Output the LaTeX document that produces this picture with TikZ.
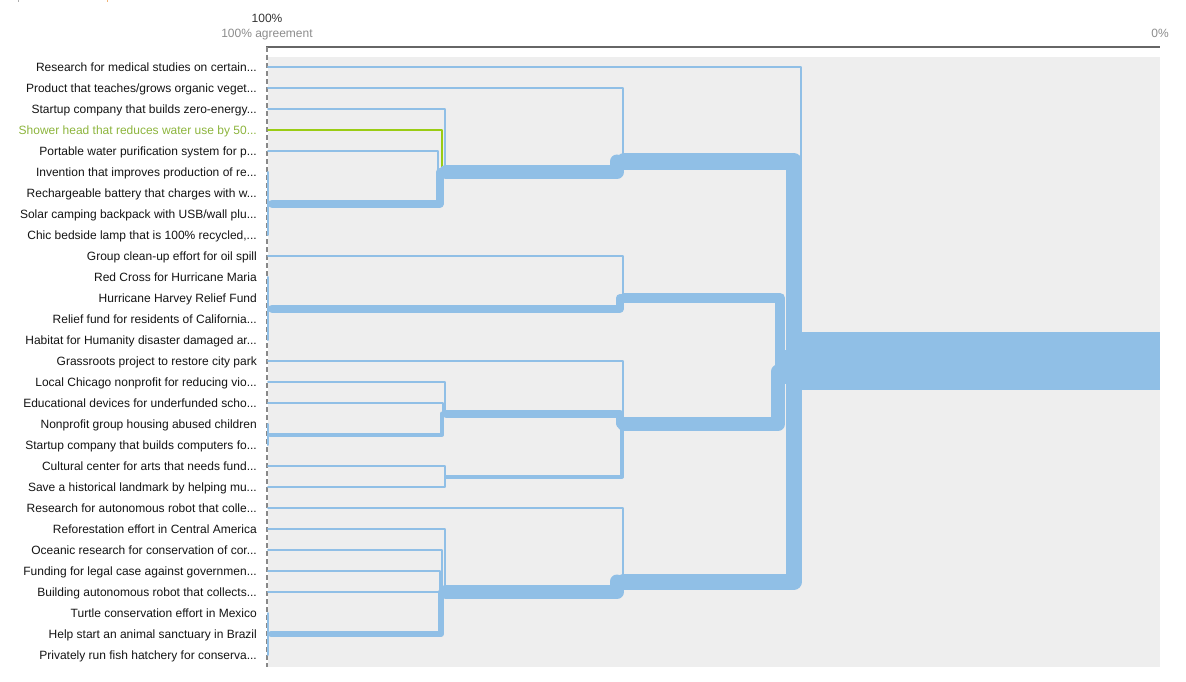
\documentclass[tikz,border=0pt]{standalone}
\usepackage{fontspec}
\setmainfont{Liberation Sans}
\definecolor{branchBlue}{RGB}{144,191,230}
\definecolor{showerGreen}{RGB}{154,204,20}
\definecolor{showerText}{RGB}{140,180,60}
\definecolor{bgGray}{RGB}{238,238,238}
\definecolor{axisGray}{RGB}{102,102,102}
\definecolor{dashGray}{RGB}{136,136,136}
\definecolor{capGray}{RGB}{140,140,140}
\definecolor{tickOrange}{RGB}{240,180,120}

\begin{document}
\begin{tikzpicture}[x=1pt, y=-1pt,
		lbl/.style={anchor=base east, inner sep=0pt, font=\fontsize{12pt}{14pt}\selectfont, text=black!92},
		hdr/.style={anchor=base, inner sep=0pt, font=\fontsize{12pt}{14pt}\selectfont},
		br/.style={draw=branchBlue, line width=2pt, line join=round, line cap=round}]
				\useasboundingbox (0,0) rectangle (1186,682);
				
				% frame
				\fill[bgGray] (268,57) rectangle (1160,667);
				\draw[axisGray, line width=2pt] (266,47) -- (1160,47);
				\draw[dashGray, line width=2pt, dash pattern=on 5pt off 3pt] (266.5,47) -- (266.5,667);
				\draw[capGray!70, line width=1pt] (18,0) -- (18,2.5);
				\draw[tickOrange, line width=1pt] (107,0) -- (107,2.5);
				
				\node[hdr, text=black!80] (full) at (267,23) {100\%};
				\node[hdr, text=capGray] (agree) at (267,38) {100\% agreement};
				\node[hdr, text=capGray] (none) at (1160,38) {0\%};
				
				% labels
				\node[lbl] (t0) at (257,71.5) {Research for medical studies on certain...};
				\node[lbl] (t1) at (257,92.5) {Product that teaches/grows organic veget...};
				\node[lbl] (t2) at (257,113.5) {Startup company that builds zero-energy...};
				\node[lbl, text=showerText] (t3) at (257,134.5) {Shower head that reduces water use by 50...};
				\node[lbl] (t4) at (257,155.5) {Portable water purification system for p...};
				\node[lbl] (t5) at (257,176.5) {Invention that improves production of re...};
				\node[lbl] (t6) at (257,197.5) {Rechargeable battery that charges with w...};
				\node[lbl] (t7) at (257,218.5) {Solar camping backpack with USB/wall plu...};
				\node[lbl] (t8) at (257,239.5) {Chic bedside lamp that is 100\% recycled,...};
				\node[lbl] (t9) at (257,260.5) {Group clean-up effort for oil spill};
				\node[lbl] (t10) at (257,281.5) {Red Cross for Hurricane Maria};
				\node[lbl] (t11) at (257,302.5) {Hurricane Harvey Relief Fund};
				\node[lbl] (t12) at (257,323.5) {Relief fund for residents of California...};
				\node[lbl] (t13) at (257,344.5) {Habitat for Humanity disaster damaged ar...};
				\node[lbl] (t14) at (257,365.5) {Grassroots project to restore city park};
				\node[lbl] (t15) at (257,386.5) {Local Chicago nonprofit for reducing vio...};
				\node[lbl] (t16) at (257,407.5) {Educational devices for underfunded scho...};
				\node[lbl] (t17) at (257,428.5) {Nonprofit group housing abused children};
				\node[lbl] (t18) at (257,449.5) {Startup company that builds computers fo...};
				\node[lbl] (t19) at (257,470.5) {Cultural center for arts that needs fund...};
				\node[lbl] (t20) at (257,491.5) {Save a historical landmark by helping mu...};
				\node[lbl] (t21) at (257,512.5) {Research for autonomous robot that colle...};
				\node[lbl] (t22) at (257,533.5) {Reforestation effort in Central America};
				\node[lbl] (t23) at (257,554.5) {Oceanic research for conservation of cor...};
				\node[lbl] (t24) at (257,575.5) {Funding for legal case against governmen...};
				\node[lbl] (t25) at (257,596.5) {Building autonomous robot that collects...};
				\node[lbl] (t26) at (257,617.5) {Turtle conservation effort in Mexico};
				\node[lbl] (t27) at (257,638.5) {Help start an animal sanctuary in Brazil};
				\node[lbl] (t28) at (257,659.5) {Privately run fish hatchery for conserva...};
				
				% leaves
				\coordinate (l0) at (268,67);
				\coordinate (l1) at (268,88);
				\coordinate (l2) at (268,109);
				\coordinate (l3) at (268,130);
				\coordinate (l4) at (268,151);
				\coordinate (l5) at (268,172);
				\coordinate (l8) at (268,235);
				\coordinate (l9) at (268,256);
				\coordinate (l10) at (268,277);
				\coordinate (l13) at (268,340);
				\coordinate (l14) at (268,361);
				\coordinate (l15) at (268,382);
				\coordinate (l16) at (268,403);
				\coordinate (l17) at (268,424);
				\coordinate (l18) at (268,445);
				\coordinate (l19) at (268,466);
				\coordinate (l20) at (268,487);
				\coordinate (l21) at (268,508);
				\coordinate (l22) at (268,529);
				\coordinate (l23) at (268,550);
				\coordinate (l24) at (268,571);
				\coordinate (l25) at (268,592);
				\coordinate (l26) at (268,613);
				\coordinate (l28) at (268,655);
				
				% merges
				\coordinate (m1) at (272,203.5);
				\coordinate (m4) at (446,172);
				\coordinate (m5) at (624,161.5);
				\coordinate (m6) at (272,308.5);
				\coordinate (m7) at (624,298);
				\coordinate (m8) at (270,434.5);
				\coordinate (m10) at (446,413.5);
				\coordinate (m11) at (446,476.5);
				\coordinate (m12) at (624,424);
				\coordinate (m13) at (785,371.5);
				\coordinate (m17) at (271,634);
				\coordinate (m18) at (446,592);
				\coordinate (m19) at (624,581.5);
				\coordinate (root) at (802,361.2);
				\coordinate (rootend) at (1160,361.2);
				
				% single items
				\draw[br] (l0) -| ([xshift=-1pt]root);
				\draw[br] (l1) -| ([xshift=-1pt]m5);
				\draw[br] (l2) -| ([xshift=-1pt]m4);
				\draw[br] (l4) -| ([xshift=-8pt]m4);
				\draw[br] (l9) -| ([xshift=-1pt]m7);
				\draw[br] (l14) -| ([xshift=-1pt]m12);
				\draw[br] (l15) -| ([xshift=-1pt]m10);
				\draw[br] (l16) -| ([xshift=-3pt]m10);
				\draw[br] (l19) -| ([xshift=-1pt]m11);
				\draw[br] (l20) -| ([xshift=-1pt]m11);
				\draw[br] (l21) -| ([xshift=-1pt]m19);
				\draw[br] (l22) -| ([xshift=-1pt]m18);
				\draw[br] (l23) -| ([xshift=-4pt]m18);
				\draw[br] (l24) -| ([xshift=-6pt]m18);
				\draw[br] (l25) -| ([xshift=-3pt]m18);
				\draw[br] (l5) -- (l8);
				\draw[br] (l10) -- (l13);
				\draw[br] (l17) -- (l18);
				\draw[br] (l26) -- (l28);
				\draw[br, draw=showerGreen] (l3) -| ([xshift=-4pt]m4);
				
				% clusters
				\draw[br, line width=4pt] (m8) -| ([xshift=-4pt]m10);
				\draw[br, line width=4pt] (m11) -| ([xshift=-2pt]m12);
				\draw[br, line width=6pt] (m17) -| ([xshift=-5pt]m18);
				\draw[br, line width=8pt] (m1) -| ([xshift=-6pt]m4);
				\draw[br, line width=8pt] (m6) -| ([xshift=-4pt]m7);
				\draw[br, line width=8pt] (m10) -| ([xshift=-4pt]m12);
				\draw[br, line width=10pt] (m7) -| ([xshift=-5pt]m13);
				\draw[br, line width=14pt] (m4) -| ([xshift=-7pt]m5);
				\draw[br, line width=14pt] (m12) -| ([xshift=-7pt]m13);
				\draw[br, line width=14pt] (m18) -| ([xshift=-7pt]m19);
				\draw[br, line width=16pt] (m5) -| ([xshift=-8pt]root);
				\draw[br, line width=16pt] (m19) -| ([xshift=-8pt]root);
				\draw[br, line width=24pt] (m13) -| ([xshift=-12pt]root);
				\draw[br, line width=58pt, line cap=butt] (root) -- (rootend);
			\end{tikzpicture}
\end{document}
